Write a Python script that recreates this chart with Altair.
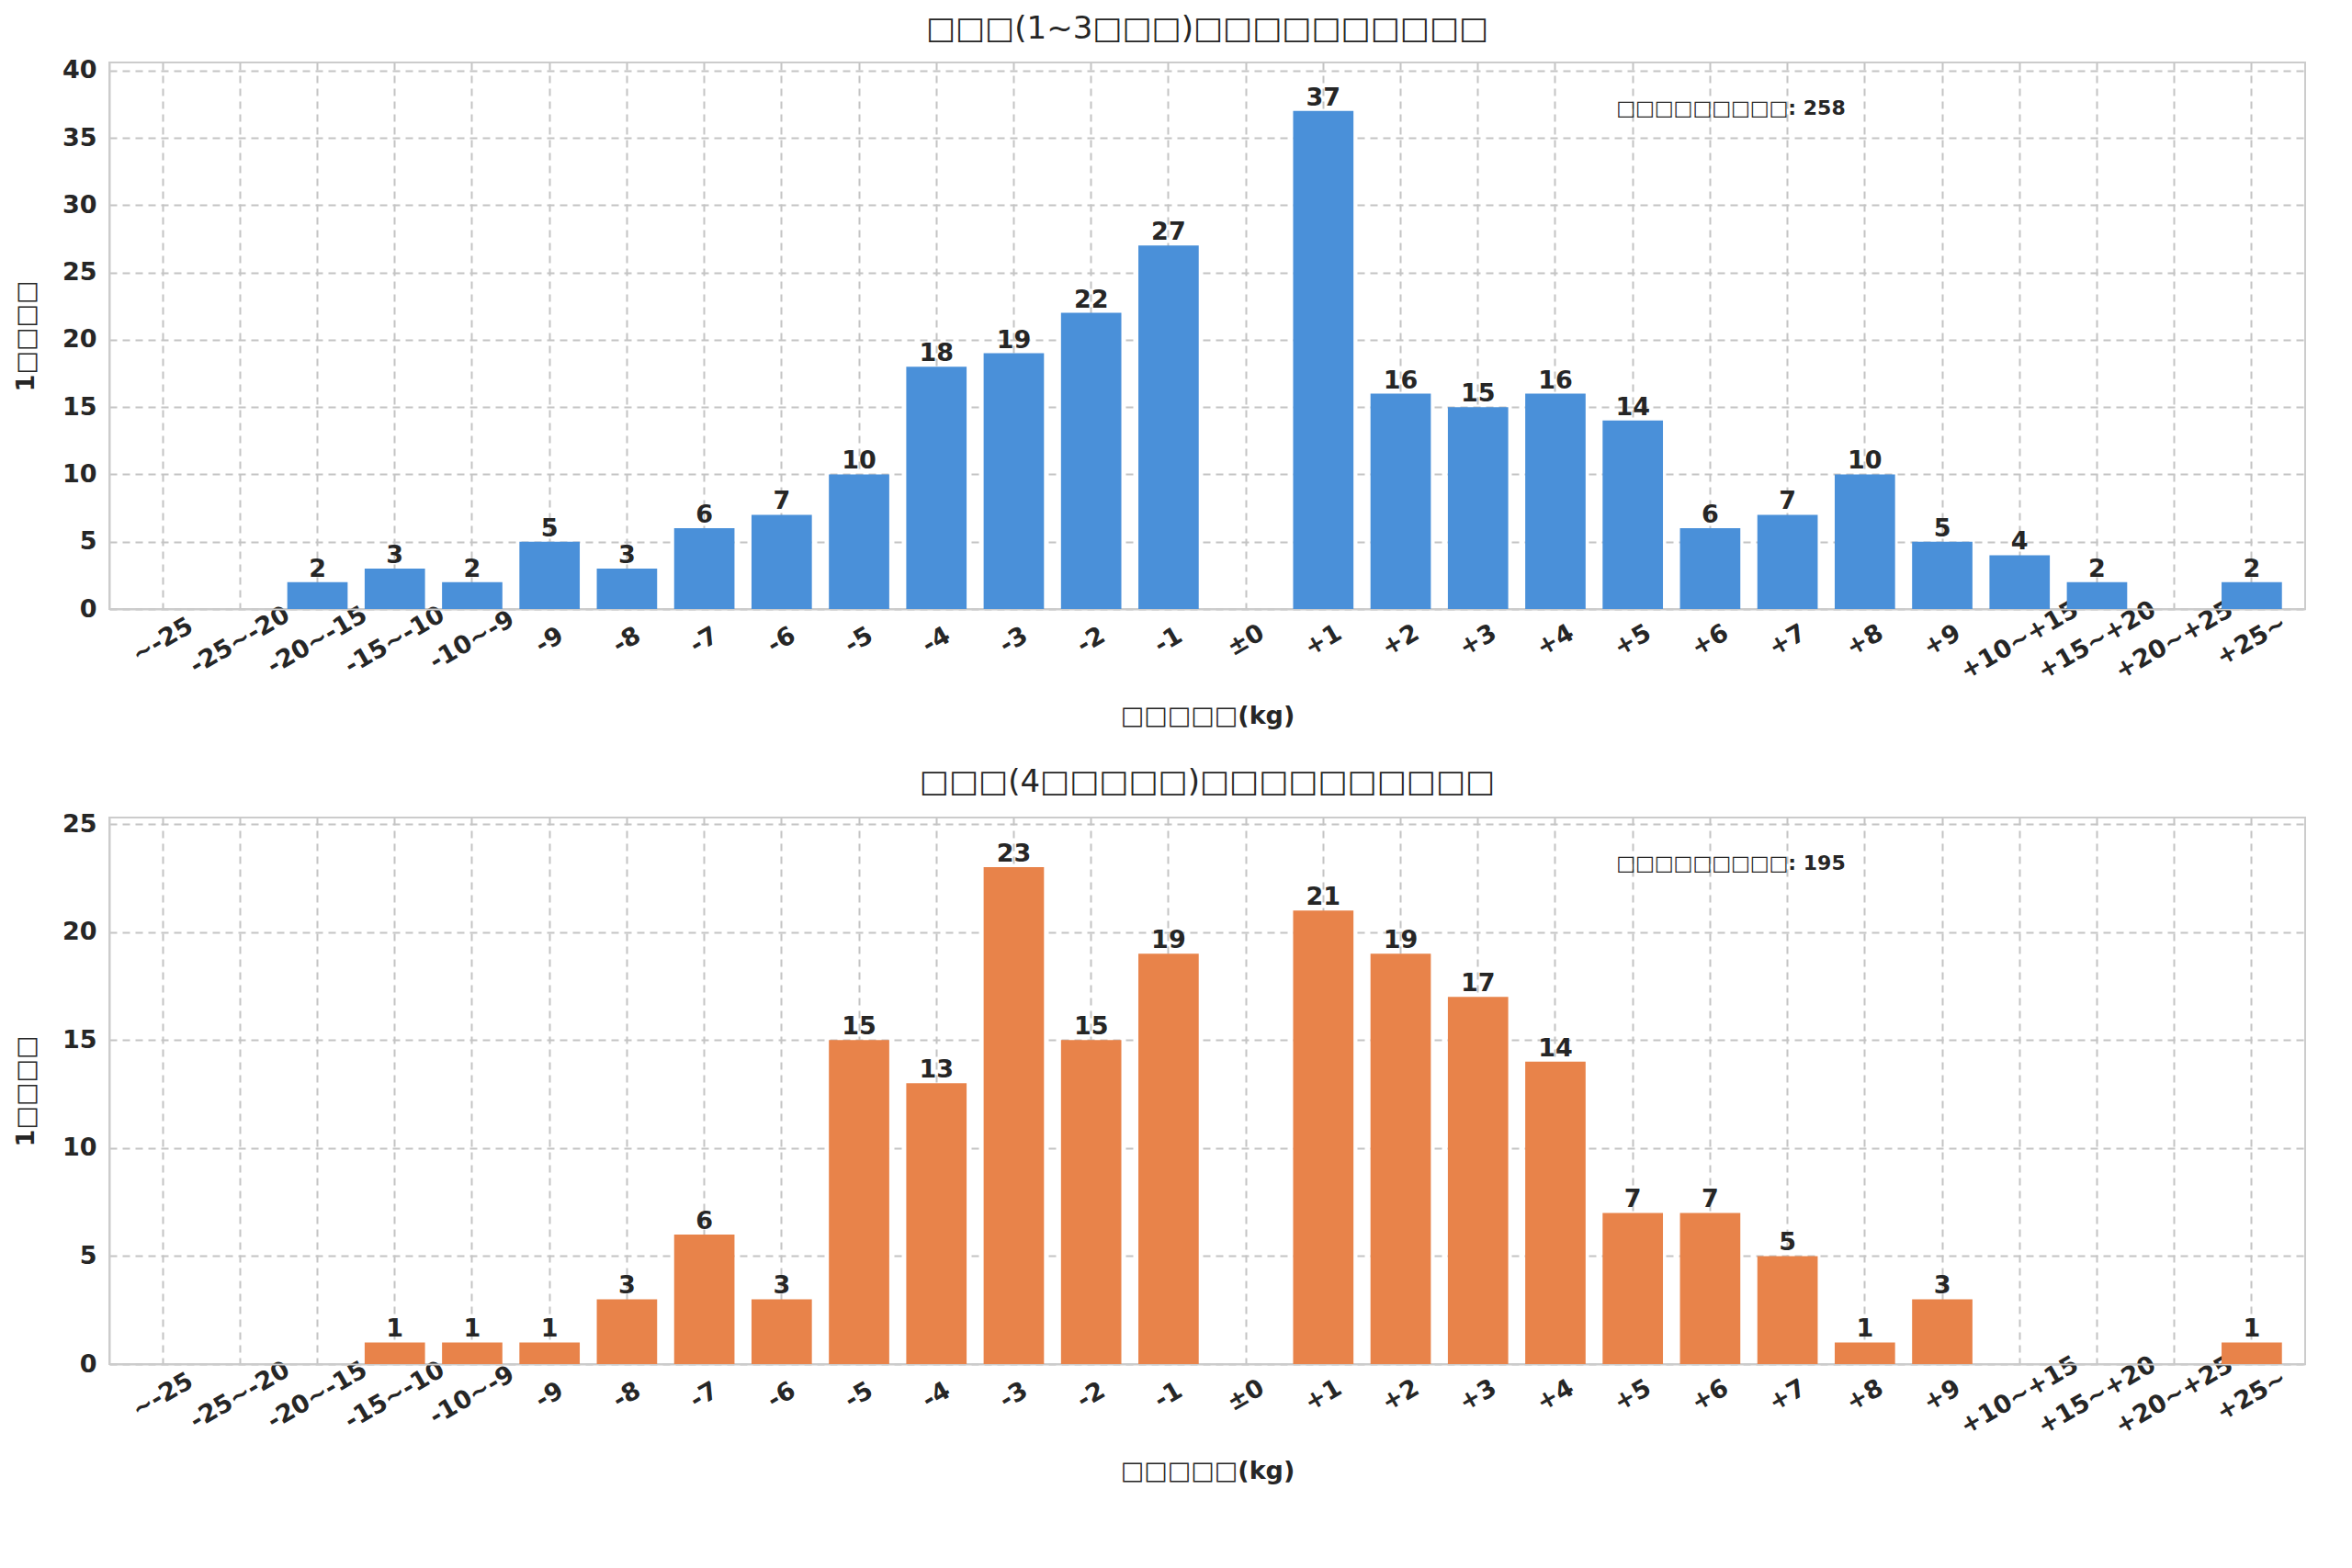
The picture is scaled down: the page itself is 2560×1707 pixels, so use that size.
import altair as alt
import pandas as pd

categories = ["~-25", "-25~-20", "-20~-15", "-15~-10", "-10~-9", "-9", "-8", "-7", "-6", "-5",
              "-4", "-3", "-2", "-1", "±0", "+1", "+2", "+3", "+4", "+5", "+6", "+7", "+8", "+9",
              "+10~+15", "+15~+20", "+20~+25", "+25~"]
counts_top = [0, 0, 2, 3, 2, 5, 3, 6, 7, 10, 18, 19, 22, 27, 0, 37, 16, 15, 16, 14, 6, 7, 10, 5,
              4, 2, 0, 2]
counts_bottom = [0, 0, 0, 1, 1, 1, 3, 6, 3, 15, 13, 23, 15, 19, 0, 21, 19, 17, 14, 7, 7, 5, 1, 3,
                 0, 0, 0, 1]

title_top = "□□□(1~3□□□)□□□□□□□□□□"
title_bottom = "□□□(4□□□□□)□□□□□□□□□□"
x_title = "□□□□□(kg)"
y_title = "1□□□□"
note_top = "□□□□□□□□□: 258"
note_bottom = "□□□□□□□□□: 195"

FONT = "DejaVu Sans"
TXT = "#262626"
GRID = "#c4c4c4"


def panel(counts, color, title, note, ymax):
    df = pd.DataFrame({"cat": categories, "n": counts})
    x = alt.X("cat:N", sort=categories, title=x_title,
              scale=alt.Scale(paddingInner=0.22, paddingOuter=0.3),
              axis=alt.Axis(labelAngle=-30, labelAlign="center", labelBaseline="middle",
                            grid=True, bandPosition=0.5, gridDash=[8, 6], gridColor=GRID,
                            gridWidth=2,
                            labelFontSize=27, labelFontWeight="bold", labelColor=TXT,
                            titleFontSize=27, titleFontWeight="bold", titleColor=TXT,
                            titlePadding=22, ticks=False, labelPadding=34,
                            domainColor="#cccccc", domainWidth=2))
    y = alt.Y("n:Q", title=y_title,
              scale=alt.Scale(domain=[0, ymax], nice=False),
              axis=alt.Axis(values=list(range(0, int(ymax) + 1, 5)), gridDash=[8, 6],
                            gridColor=GRID, gridWidth=2, labelFontSize=27,
                            labelFontWeight="bold", labelColor=TXT, titleFontSize=27,
                            titleFontWeight="bold", titleColor=TXT, titlePadding=25,
                            ticks=False, labelPadding=14,
                            domainColor="#cccccc", domainWidth=2))
    base = alt.Chart(df)
    bars = base.mark_bar(color=color).encode(x=x, y=y)
    labels = base.transform_filter("datum.n > 0").mark_text(
        dy=-14, fontSize=27, fontWeight="bold", color=TXT, font=FONT
    ).encode(x=x, y=y, text="n:Q")
    anno = alt.Chart(pd.DataFrame({"t": [note]})).mark_text(
        fontSize=22, fontWeight="bold", color=TXT, font=FONT
    ).encode(x=alt.value(1765), y=alt.value(50), text="t:N")
    return alt.layer(bars, labels, anno).properties(
        width=2390, height=595,
        title=alt.TitleParams(title, fontSize=34, fontWeight="normal", color=TXT, font=FONT,
                              offset=14))


chart = alt.vconcat(
    panel(counts_top, "#4A90D9", title_top, note_top, 40.6),
    panel(counts_bottom, "#E8834A", title_bottom, note_bottom, 25.3),
    spacing=40,
).configure(font=FONT).configure_view(stroke="#cccccc", strokeWidth=2).configure_axis(
    titleFont=FONT, labelFont=FONT)

chart.save("out.html", embed_options={"renderer": "svg", "actions": False})
